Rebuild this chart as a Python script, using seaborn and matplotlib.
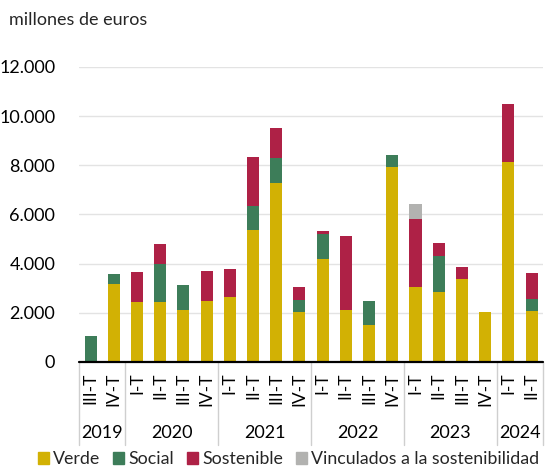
import matplotlib
matplotlib.use("Agg")
import matplotlib.pyplot as plt
import matplotlib.patches as mpatches
from matplotlib.ticker import FuncFormatter
import numpy as np
import pandas as pd
import seaborn as sns

# Quarterly issuance of ESG bonds (millones de euros)
years = ["2019", "2020", "2021", "2022", "2023", "2024"]
quarters_per_year = [2, 4, 4, 4, 4, 2]
quarters = ["III-T", "IV-T",
            "I-T", "II-T", "III-T", "IV-T",
            "I-T", "II-T", "III-T", "IV-T",
            "I-T", "II-T", "III-T", "IV-T",
            "I-T", "II-T", "III-T", "IV-T",
            "I-T", "II-T"]
verde = [50, 3160, 2430, 2430, 2130, 2500, 2660, 5350, 7270, 2050,
         4200, 2100, 1520, 7940, 3030, 2840, 3380, 2020, 8130, 2090]
social = [990, 430, 0, 1550, 1010, 0, 0, 990, 1010, 490,
          1000, 0, 980, 480, 0, 1490, 0, 0, 0, 490]
sostenible = [0, 0, 1230, 810, 0, 1220, 1120, 1990, 1220, 500,
              120, 3010, 0, 0, 2790, 490, 500, 0, 2360, 1020]
vinculados = [0, 0, 0, 0, 0, 0, 0, 0, 0, 0,
              0, 0, 0, 0, 600, 0, 0, 0, 0, 0]

series_names = ["Verde", "Social", "Sostenible", "Vinculados a la sostenibilidad"]
colors = ["#D2B104", "#3D7D59", "#AE2146", "#B2B2B0"]

year_of_bar = [y for y, n in zip(years, quarters_per_year) for _ in range(n)]
periods = [f"{y} {q}" for y, q in zip(year_of_bar, quarters)]

df = pd.DataFrame({"periodo": periods, "Verde": verde, "Social": social,
                   "Sostenible": sostenible,
                   "Vinculados a la sostenibilidad": vinculados})
stack = df[series_names].cumsum(axis=1)

sns.set_theme(style="white")
plt.rcParams["font.family"] = ["Lato", "DejaVu Sans"]

fig = plt.figure(figsize=(5.52, 4.68), dpi=100)
ax = fig.add_axes([0.143, 0.2265, 0.841, 0.6305])

# stacked bars: draw cumulative totals from the top layer down
for name, color in reversed(list(zip(series_names, colors))):
    sns.barplot(x=df["periodo"], y=stack[name], color=color, width=0.52,
                linewidth=0, saturation=1, ax=ax, zorder=3)

ax.set_ylim(0, 12000)
ax.set_xlim(-0.5, 19.5)
ax.set_yticks(np.arange(0, 12001, 2000))
ax.yaxis.set_major_formatter(FuncFormatter(lambda v, p: f"{int(v):,}".replace(",", ".")))
ax.grid(axis="y", color="#E3E3E3", linewidth=1.0, zorder=0)
ax.grid(axis="x", visible=False)
for s in ["top", "right", "left", "bottom"]:
    ax.spines[s].set_visible(False)
ax.axhline(0, color="black", linewidth=1.6, zorder=4, clip_on=False)
ax.tick_params(axis="y", length=0, labelsize=13, pad=17, colors="black")
ax.set_xlabel("")
ax.set_ylabel("")
ax.set_xticks([])

# quarter labels
for i, q in enumerate(quarters):
    ax.text(i, -420, q, rotation=90, ha="center", va="top", fontsize=12.5,
            color="black")

# year labels and separators
start = 0
bounds = [-0.5]
for y, n in zip(years, quarters_per_year):
    center = start + (n - 1) / 2
    ax.text(center, -2870, y, ha="center", va="center", fontsize=13, color="black")
    start += n
    bounds.append(start - 0.5)
for b in bounds:
    ax.plot([b, b], [0, -3370], color="#CFCFCF", linewidth=1.0, clip_on=False, zorder=1)

fig.text(0.016, 0.957, "millones de euros", fontsize=13, ha="left", va="center")

handles = [mpatches.Patch(color=c, label=n) for n, c in zip(series_names, colors)]
fig.legend(handles=handles, loc="lower left", bbox_to_anchor=(0.062, -0.006), ncol=4,
           frameon=False, fontsize=12.8, handlelength=0.62, handleheight=0.62,
           handletextpad=0.22, columnspacing=0.75, borderpad=0.0, borderaxespad=0.2)

fig.savefig("out.png", dpi=100)
